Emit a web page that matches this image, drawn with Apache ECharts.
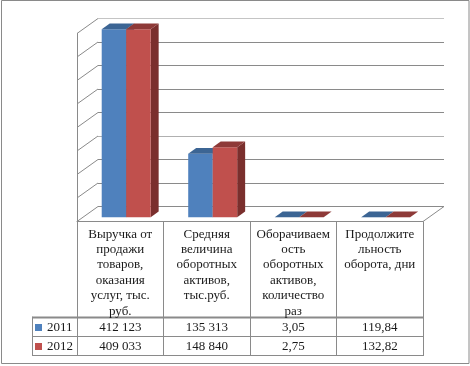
<!DOCTYPE html>
<html><head><meta charset="utf-8">
<script src="https://cdn.jsdelivr.net/npm/echarts@6/dist/echarts.min.js"></script>
<style>html,body{margin:0;padding:0;background:#fff}#c{width:470px;height:366px}</style>
</head><body><div id="c"></div>
<script>
// ---- data ----
const categories = [
  'Выручка от\nпродажи\nтоваров,\nоказания\nуслуг, тыс.\nруб.',
  'Средняя\nвеличина\nоборотных\nактивов,\nтыс.руб.',
  'Оборачиваем\nость\nоборотных\nактивов,\nколичество\nраз',
  'Продолжите\nльность\nоборота, дни'
];
const seriesNames = ['2011', '2012'];
const values2011 = [412123, 135313, 3.05, 119.84];
const values2012 = [409033, 148840, 2.75, 132.82];
const yMin = 0, yMax = 400000, yInterval = 50000;
const yTicks = [0, 50000, 100000, 150000, 200000, 250000, 300000, 350000, 400000];

// ---- style / layout ----
const FONT = '"Liberation Serif", "Times New Roman", serif';
const LINE = '#8a8a8a';
const DX = 21, DY = -15;          // depth offset of the 3D box
const F0 = 0.283, FD = 0.38;      // bar front depth, bar depth
const BARFRAC = 0.283;
const colors = [
  { front: '#4f81bd', top: '#3c6594', side: '#34577f' },
  { front: '#c0504d', top: '#8e3a38', side: '#7a2f2d' }
];

function fmt(n) {
  if (n >= 1000) return Math.round(n).toString().replace(/\B(?=(\d{3})+(?!\d))/g, ' ');
  return n.toFixed(2).replace('.', ',');
}

function barRender(sIdx) {
  const col = colors[sIdx];
  return function (params, api) {
    const c = api.value(0);
    const v = Math.min(api.value(1), yMax);
    const base = api.coord([c, 0]);
    const tp = api.coord([c, v]);
    const band = api.size([1, 0])[0];
    const w = band * BARFRAC;
    const x = base[0] + (sIdx === 0 ? -w : 0) + F0 * DX;
    const by = base[1] + F0 * DY, ty = tp[1] + F0 * DY;
    const dx = FD * DX, dy = FD * DY;
    return {
      type: 'group',
      children: [
        { type: 'polygon', shape: { points: [[x + w, ty], [x + w + dx, ty + dy], [x + w + dx, by + dy], [x + w, by]] }, style: { fill: col.side } },
        { type: 'rect', shape: { x: x, y: ty, width: w, height: by - ty }, style: { fill: col.front } },
        { type: 'polygon', shape: { points: [[x, ty], [x + w, ty], [x + w + dx, ty + dy], [x + dx, ty + dy]] }, style: { fill: col.top } }
      ]
    };
  };
}

const chart = echarts.init(document.getElementById('c'), null, { renderer: 'canvas' });
const labelStyle = { fontFamily: FONT, fontSize: 13, lineHeight: 15.4, color: '#1a1a1a' };

chart.setOption({
  animation: false,
  backgroundColor: '#fff',
  grid: [
    { left: 77, top: 33.5, width: 346, height: 188, outerBoundsMode: 'none', containLabel: false },
    { left: 98, top: 18.5, width: 346, height: 188, outerBoundsMode: 'none', containLabel: false }
  ],
  legend: {
    data: seriesNames, orient: 'vertical', left: 35, top: 320, padding: 0,
    itemWidth: 7, itemHeight: 7, itemGap: 4, icon: 'rect', selectedMode: false,
    textStyle: { fontFamily: FONT, fontSize: 13, lineHeight: 15, color: '#1a1a1a' }
  },
  xAxis: [
    {
      type: 'category', gridIndex: 0, position: 'bottom', data: categories,
      axisLine: { lineStyle: { color: LINE } },
      axisTick: { show: true, interval: 0, length: 134.5, lineStyle: { color: LINE } },
      axisLabel: Object.assign({ interval: 0, margin: 5 }, labelStyle)
    },
    {
      type: 'category', gridIndex: 0, position: 'bottom', data: categories, offset: 98,
      axisLine: { show: false }, axisTick: { show: false },
      axisLabel: Object.assign({ interval: 0, margin: 0, formatter: (v, i) => fmt(values2011[i]) }, labelStyle)
    },
    {
      type: 'category', gridIndex: 0, position: 'bottom', data: categories, offset: 117,
      axisLine: { show: false }, axisTick: { show: false },
      axisLabel: Object.assign({ interval: 0, margin: 0, formatter: (v, i) => fmt(values2012[i]) }, labelStyle)
    },
    { type: 'category', gridIndex: 1, data: categories, show: false }
  ],
  yAxis: [
    {
      type: 'value', gridIndex: 0, min: yMin, max: yMax, interval: yInterval,
      axisLine: { show: true, lineStyle: { color: LINE } },
      axisTick: { show: false }, axisLabel: { show: false }, splitLine: { show: false }
    },
    {
      type: 'value', gridIndex: 1, min: yMin, max: yMax, interval: yInterval,
      axisLine: { show: false }, axisTick: { show: false }, axisLabel: { show: false },
      splitLine: { show: true, lineStyle: { color: [LINE, LINE, LINE, '#b0b0b0', LINE, LINE, LINE, LINE, '#c4c4c4'], width: 1 } }
    }
  ],
  series: [
    {
      type: 'custom', name: 'wall', xAxisIndex: 0, yAxisIndex: 0, silent: true, z: 1,
      data: yTicks.map(v => [0, v]),
      renderItem: function (params, api) {
        const p = api.coord([0, api.value(1)]);
        const x0 = params.coordSys.x;
        return { type: 'line', shape: { x1: x0, y1: p[1], x2: x0 + DX, y2: p[1] + DY }, style: { stroke: LINE, lineWidth: 1 } };
      }
    },
    {
      type: 'custom', name: seriesNames[0], xAxisIndex: 0, yAxisIndex: 0,
      itemStyle: { color: colors[0].front },
      data: values2011.map((v, i) => [i, v]), encode: { x: 0, y: 1 },
      renderItem: barRender(0)
    },
    {
      type: 'custom', name: seriesNames[1], xAxisIndex: 0, yAxisIndex: 0,
      itemStyle: { color: colors[1].front },
      data: values2012.map((v, i) => [i, v]), encode: { x: 0, y: 1 },
      renderItem: barRender(1)
    }
  ],
  graphic: [
    { type: 'rect', shape: { x: 1.5, y: 0.5, width: 467.5, height: 363 }, style: { fill: 'none', stroke: LINE, lineWidth: 1 }, silent: true },
    { type: 'line', shape: { x1: 423, y1: 221.5, x2: 444, y2: 206.5 }, style: { stroke: LINE, lineWidth: 1 }, silent: true },
    { type: 'line', shape: { x1: 32.5, y1: 317.5, x2: 423.5, y2: 317.5 }, style: { stroke: LINE, lineWidth: 2 }, silent: true },
    { type: 'line', shape: { x1: 32.5, y1: 336.5, x2: 423.5, y2: 336.5 }, style: { stroke: LINE, lineWidth: 1 }, silent: true },
    { type: 'line', shape: { x1: 32.5, y1: 355.5, x2: 423.5, y2: 355.5 }, style: { stroke: LINE, lineWidth: 1 }, silent: true },
    { type: 'line', shape: { x1: 32.5, y1: 316.5, x2: 32.5, y2: 356 }, style: { stroke: LINE, lineWidth: 1 }, silent: true }
  ]
});
</script>
</body></html>
